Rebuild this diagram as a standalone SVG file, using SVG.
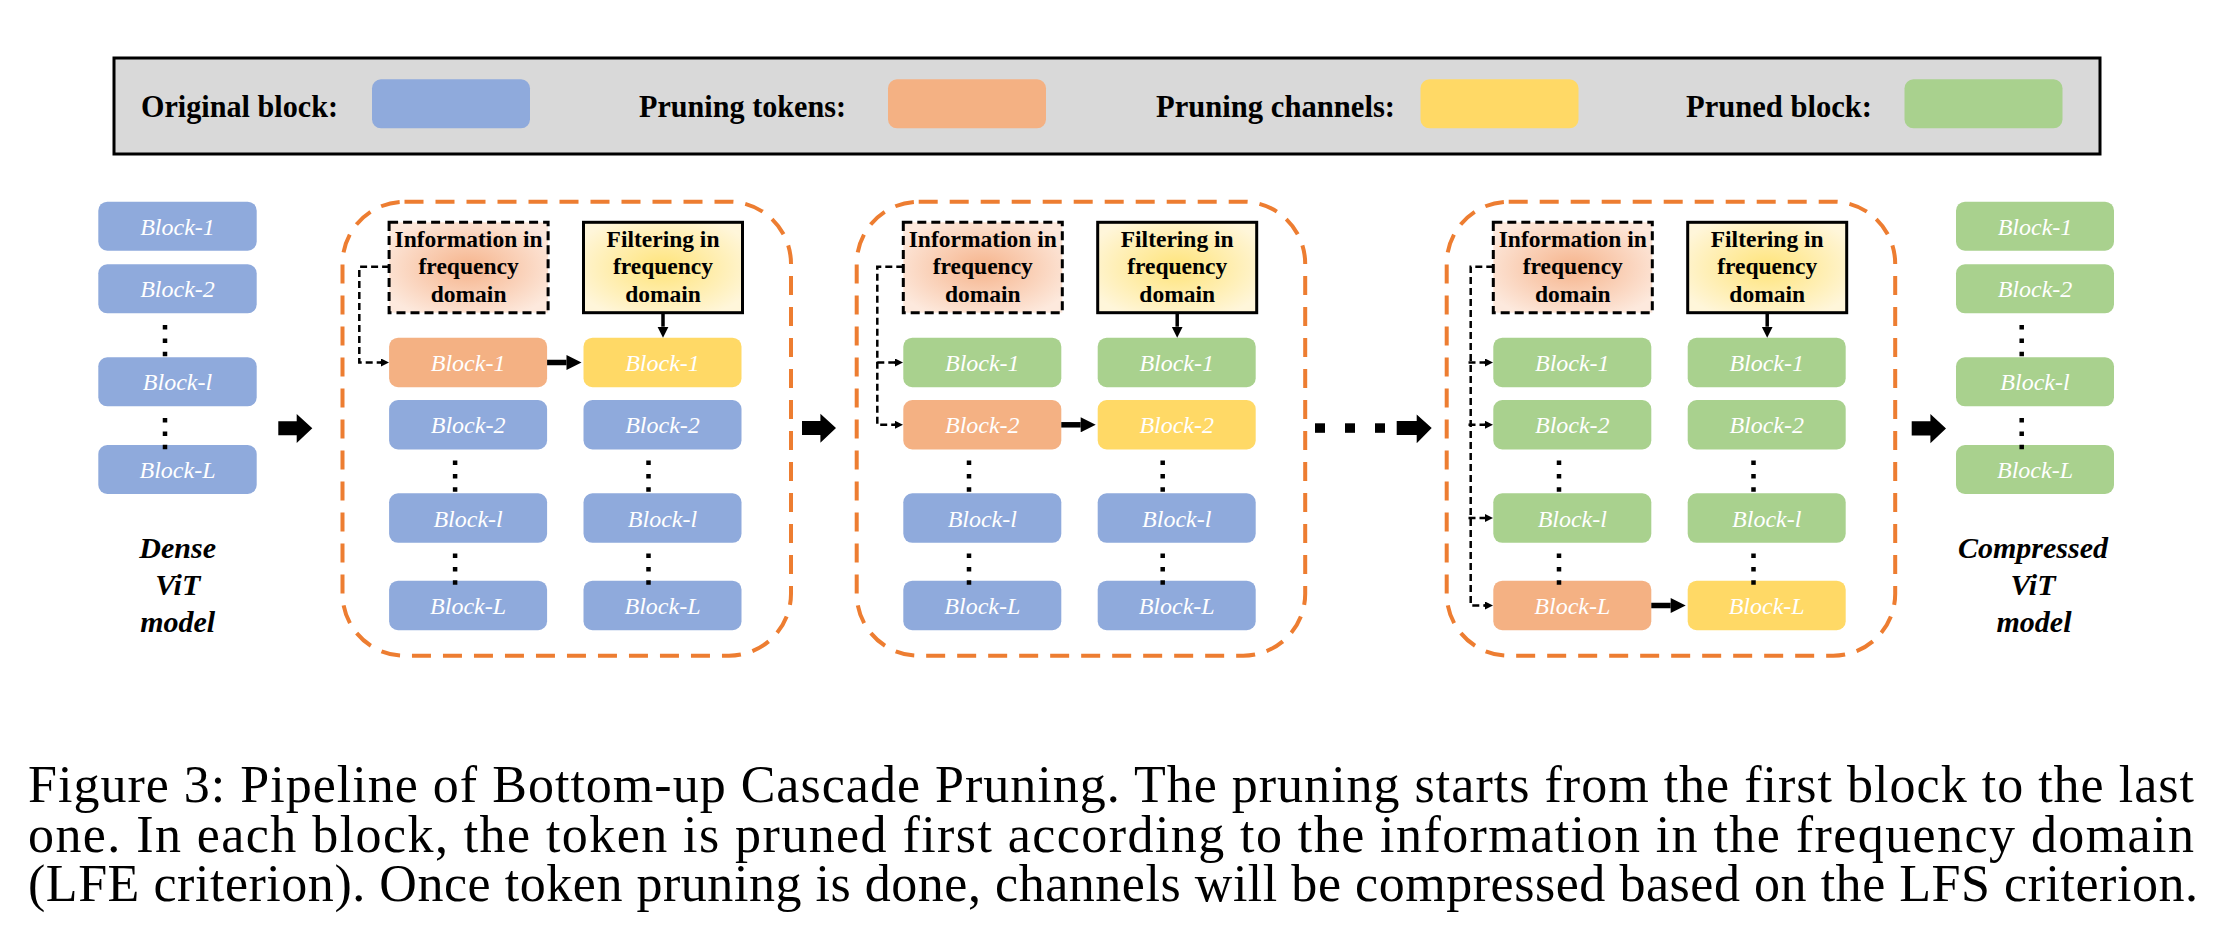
<svg xmlns="http://www.w3.org/2000/svg" width="2227" height="927" viewBox="0 0 2227 927">
<defs>
<style>
.blk{stroke:none}
.blue{fill:#8FAADC}
.org{fill:#F4B183}
.yel{fill:#FFD966}
.grn{fill:#A9D18E}
.bt{font-family:"Liberation Serif","Times New Roman",serif;font-style:italic;font-size:24px;fill:#FFFFFF;text-anchor:middle}
.lt{font-family:"Liberation Serif","Times New Roman",serif;font-weight:bold;font-size:31px;fill:#000}
.bx{font-family:"Liberation Serif","Times New Roman",serif;font-weight:bold;font-size:23.5px;fill:#000;text-anchor:middle}
.mt{font-family:"Liberation Serif","Times New Roman",serif;font-weight:bold;font-style:italic;font-size:30px;fill:#000;text-anchor:middle}
.cap{font-family:"Liberation Serif","Times New Roman",serif;font-size:52px;fill:#000}
.cont{fill:none;stroke:#ED7D31;stroke-width:4;stroke-dasharray:19 12}
.info{stroke:#000;stroke-width:3;stroke-dasharray:9 5}
.filt{stroke:#000;stroke-width:3}
.dots{stroke:#000;stroke-width:4.5;stroke-dasharray:4.5 8.9}
.dash{fill:none;stroke:#000;stroke-width:2.5;stroke-dasharray:7 4}
.thick{stroke:#000;stroke-width:5.5}
.thin{stroke:#000;stroke-width:3.5}
.big{fill:#000}
</style>
<radialGradient id="gInfo" cx="50%" cy="50%" r="60%">
<stop offset="0%" stop-color="#F6B48C"/>
<stop offset="100%" stop-color="#FDE9DD"/>
</radialGradient>
<radialGradient id="gFilt" cx="50%" cy="50%" r="60%">
<stop offset="0%" stop-color="#FFE47A"/>
<stop offset="100%" stop-color="#FFF6DA"/>
</radialGradient>
<marker id="ahS" viewBox="0 0 10 10" refX="0" refY="5" markerWidth="8" markerHeight="8" markerUnits="userSpaceOnUse" orient="auto"><path d="M0,0 L10,5 L0,10 z" fill="#000"/></marker>
<marker id="ahM" viewBox="0 0 10 10" refX="0" refY="5" markerWidth="11" markerHeight="12" markerUnits="userSpaceOnUse" orient="auto"><path d="M0,0 L10,5 L0,10 z" fill="#000"/></marker>
<marker id="ahL" viewBox="0 0 10 10" refX="0" refY="5" markerWidth="17" markerHeight="15" markerUnits="userSpaceOnUse" orient="auto"><path d="M0,0 L10,5 L0,10 z" fill="#000"/></marker>
</defs>

<g id="legend">
<rect x="114" y="58" width="1986" height="96" fill="#D9D9D9" stroke="#000" stroke-width="3"/>
<text class="lt" x="141" y="117" textLength="197" lengthAdjust="spacingAndGlyphs">Original block:</text>
<rect class="blue" x="372" y="79.3" width="158" height="49" rx="9"/>
<text class="lt" x="639" y="117" textLength="207" lengthAdjust="spacingAndGlyphs">Pruning tokens:</text>
<rect class="org" x="888" y="79.3" width="158" height="49" rx="9"/>
<text class="lt" x="1156" y="117" textLength="239" lengthAdjust="spacingAndGlyphs">Pruning channels:</text>
<rect class="yel" x="1420.5" y="79.3" width="158" height="49" rx="9"/>
<text class="lt" x="1686" y="117" textLength="186" lengthAdjust="spacingAndGlyphs">Pruned block:</text>
<rect class="grn" x="1904.5" y="79.3" width="158" height="49" rx="9"/>
</g>

<g id="dense-model">
<rect class="blue" x="98.3" y="201.7" width="158.4" height="49" rx="9"/>
<text class="bt" x="177.5" y="234.5">Block-1</text>
<rect class="blue" x="98.3" y="264.3" width="158.4" height="49" rx="9"/>
<text class="bt" x="177.5" y="297">Block-2</text>
<rect class="blue" x="98.3" y="357.3" width="158.4" height="49" rx="9"/>
<text class="bt" x="177.5" y="390">Block-l</text>
<rect class="blue" x="98.3" y="445" width="158.4" height="49" rx="9"/>
<text class="bt" x="177.5" y="477.7">Block-L</text>
<line class="dots" x1="165" y1="325" x2="165" y2="357"/>
<line class="dots" x1="165" y1="418" x2="165" y2="450"/>
<text class="mt" x="177.7" y="558">Dense</text>
<text class="mt" x="177.7" y="595">ViT</text>
<text class="mt" x="177.7" y="632">model</text>
</g>

<g id="stage-1">
<rect class="cont" x="342.5" y="201.7" width="448.5" height="454" rx="62"/>
<rect class="info" x="389.1" y="222.3" width="159" height="90.4" fill="url(#gInfo)"/>
<text class="bx" x="468.6" y="247">Information in</text>
<text class="bx" x="468.6" y="274">frequency</text>
<text class="bx" x="468.6" y="301.5">domain</text>
<rect class="filt" x="583.5" y="222.3" width="159" height="90.4" fill="url(#gFilt)"/>
<text class="bx" x="663" y="247">Filtering in</text>
<text class="bx" x="663" y="274">frequency</text>
<text class="bx" x="663" y="301.5">domain</text>
<rect class="org" x="389.1" y="337.7" width="158" height="49.5" rx="9"/>
<text class="bt" x="468.1" y="371">Block-1</text>
<rect class="blue" x="389.1" y="400" width="158" height="49.5" rx="9"/>
<text class="bt" x="468.1" y="433.3">Block-2</text>
<rect class="blue" x="389.1" y="493.3" width="158" height="49.5" rx="9"/>
<text class="bt" x="468.1" y="526.5">Block-l</text>
<rect class="blue" x="389.1" y="580.7" width="158" height="49.5" rx="9"/>
<text class="bt" x="468.1" y="614">Block-L</text>
<rect class="yel" x="583.5" y="337.7" width="158" height="49.5" rx="9"/>
<text class="bt" x="662.5" y="371">Block-1</text>
<rect class="blue" x="583.5" y="400" width="158" height="49.5" rx="9"/>
<text class="bt" x="662.5" y="433.3">Block-2</text>
<rect class="blue" x="583.5" y="493.3" width="158" height="49.5" rx="9"/>
<text class="bt" x="662.5" y="526.5">Block-l</text>
<rect class="blue" x="583.5" y="580.7" width="158" height="49.5" rx="9"/>
<text class="bt" x="662.5" y="614">Block-L</text>
<line class="dots" x1="455.1" y1="460.5" x2="455.1" y2="493"/>
<line class="dots" x1="455.1" y1="553.5" x2="455.1" y2="586"/>
<line class="dots" x1="648.5" y1="460.5" x2="648.5" y2="493"/>
<line class="dots" x1="648.5" y1="553.5" x2="648.5" y2="586"/>
</g>

<g id="stage-2">
<rect class="cont" x="856.7" y="201.7" width="448.5" height="454" rx="62"/>
<rect class="info" x="903.3" y="222.3" width="159" height="90.4" fill="url(#gInfo)"/>
<text class="bx" x="982.8" y="247">Information in</text>
<text class="bx" x="982.8" y="274">frequency</text>
<text class="bx" x="982.8" y="301.5">domain</text>
<rect class="filt" x="1097.7" y="222.3" width="159" height="90.4" fill="url(#gFilt)"/>
<text class="bx" x="1177.2" y="247">Filtering in</text>
<text class="bx" x="1177.2" y="274">frequency</text>
<text class="bx" x="1177.2" y="301.5">domain</text>
<rect class="grn" x="903.3" y="337.7" width="158" height="49.5" rx="9"/>
<text class="bt" x="982.3" y="371">Block-1</text>
<rect class="org" x="903.3" y="400" width="158" height="49.5" rx="9"/>
<text class="bt" x="982.3" y="433.3">Block-2</text>
<rect class="blue" x="903.3" y="493.3" width="158" height="49.5" rx="9"/>
<text class="bt" x="982.3" y="526.5">Block-l</text>
<rect class="blue" x="903.3" y="580.7" width="158" height="49.5" rx="9"/>
<text class="bt" x="982.3" y="614">Block-L</text>
<rect class="grn" x="1097.7" y="337.7" width="158" height="49.5" rx="9"/>
<text class="bt" x="1176.7" y="371">Block-1</text>
<rect class="yel" x="1097.7" y="400" width="158" height="49.5" rx="9"/>
<text class="bt" x="1176.7" y="433.3">Block-2</text>
<rect class="blue" x="1097.7" y="493.3" width="158" height="49.5" rx="9"/>
<text class="bt" x="1176.7" y="526.5">Block-l</text>
<rect class="blue" x="1097.7" y="580.7" width="158" height="49.5" rx="9"/>
<text class="bt" x="1176.7" y="614">Block-L</text>
<line class="dots" x1="969" y1="460.5" x2="969" y2="493"/>
<line class="dots" x1="969" y1="553.5" x2="969" y2="586"/>
<line class="dots" x1="1162.7" y1="460.5" x2="1162.7" y2="493"/>
<line class="dots" x1="1162.7" y1="553.5" x2="1162.7" y2="586"/>
</g>

<g id="stage-3">
<rect class="cont" x="1446.7" y="201.7" width="448.5" height="454" rx="62"/>
<rect class="info" x="1493.3" y="222.3" width="159" height="90.4" fill="url(#gInfo)"/>
<text class="bx" x="1572.8" y="247">Information in</text>
<text class="bx" x="1572.8" y="274">frequency</text>
<text class="bx" x="1572.8" y="301.5">domain</text>
<rect class="filt" x="1687.7" y="222.3" width="159" height="90.4" fill="url(#gFilt)"/>
<text class="bx" x="1767.2" y="247">Filtering in</text>
<text class="bx" x="1767.2" y="274">frequency</text>
<text class="bx" x="1767.2" y="301.5">domain</text>
<rect class="grn" x="1493.3" y="337.7" width="158" height="49.5" rx="9"/>
<text class="bt" x="1572.3" y="371">Block-1</text>
<rect class="grn" x="1493.3" y="400" width="158" height="49.5" rx="9"/>
<text class="bt" x="1572.3" y="433.3">Block-2</text>
<rect class="grn" x="1493.3" y="493.3" width="158" height="49.5" rx="9"/>
<text class="bt" x="1572.3" y="526.5">Block-l</text>
<rect class="org" x="1493.3" y="580.7" width="158" height="49.5" rx="9"/>
<text class="bt" x="1572.3" y="614">Block-L</text>
<rect class="grn" x="1687.7" y="337.7" width="158" height="49.5" rx="9"/>
<text class="bt" x="1766.7" y="371">Block-1</text>
<rect class="grn" x="1687.7" y="400" width="158" height="49.5" rx="9"/>
<text class="bt" x="1766.7" y="433.3">Block-2</text>
<rect class="grn" x="1687.7" y="493.3" width="158" height="49.5" rx="9"/>
<text class="bt" x="1766.7" y="526.5">Block-l</text>
<rect class="yel" x="1687.7" y="580.7" width="158" height="49.5" rx="9"/>
<text class="bt" x="1766.7" y="614">Block-L</text>
<line class="dots" x1="1559" y1="460.5" x2="1559" y2="493"/>
<line class="dots" x1="1559" y1="553.5" x2="1559" y2="586"/>
<line class="dots" x1="1753.5" y1="460.5" x2="1753.5" y2="493"/>
<line class="dots" x1="1753.5" y1="553.5" x2="1753.5" y2="586"/>
</g>

<g id="compressed-model">
<rect class="grn" x="1956" y="201.7" width="158" height="49" rx="9"/>
<text class="bt" x="2035" y="234.5">Block-1</text>
<rect class="grn" x="1956" y="264.3" width="158" height="49" rx="9"/>
<text class="bt" x="2035" y="297">Block-2</text>
<rect class="grn" x="1956" y="357.3" width="158" height="49" rx="9"/>
<text class="bt" x="2035" y="390">Block-l</text>
<rect class="grn" x="1956" y="445" width="158" height="49" rx="9"/>
<text class="bt" x="2035" y="477.7">Block-L</text>
<line class="dots" x1="2021.7" y1="325" x2="2021.7" y2="357"/>
<line class="dots" x1="2021.7" y1="418" x2="2021.7" y2="450"/>
<text class="mt" x="2033" y="558">Compressed</text>
<text class="mt" x="2033" y="595">ViT</text>
<text class="mt" x="2034" y="632">model</text>
</g>

<g id="connectors">
<!-- stage 1 -->
<path class="dash" d="M389.1,266.7 H359.3 V362.5 H381"/>
<line x1="380" y1="362.5" x2="381" y2="362.5" stroke="#000" stroke-width="2" marker-end="url(#ahS)"/>
<line class="thin" x1="663" y1="312.7" x2="663" y2="326.7" marker-end="url(#ahM)"/>
<line class="thick" x1="547.1" y1="362.5" x2="566.5" y2="362.5" marker-end="url(#ahL)"/>
<!-- stage 2 -->
<path class="dash" d="M903.3,266.7 H877.3 V424.8 H895"/>
<line x1="894" y1="424.8" x2="895" y2="424.8" stroke="#000" stroke-width="2" marker-end="url(#ahS)"/>
<path class="dash" d="M877.3,362.5 H895"/>
<line x1="894" y1="362.5" x2="895" y2="362.5" stroke="#000" stroke-width="2" marker-end="url(#ahS)"/>
<line class="thin" x1="1177.2" y1="312.7" x2="1177.2" y2="326.7" marker-end="url(#ahM)"/>
<line class="thick" x1="1061.3" y1="424.8" x2="1080.7" y2="424.8" marker-end="url(#ahL)"/>
<!-- stage 3 -->
<path class="dash" d="M1493.3,266.7 H1470.7 V605.5 H1485"/>
<line x1="1484" y1="605.5" x2="1485" y2="605.5" stroke="#000" stroke-width="2" marker-end="url(#ahS)"/>
<path class="dash" d="M1468.5,362.5 H1485 M1468.5,424.8 H1485 M1468.5,518 H1485"/>
<line x1="1484" y1="362.5" x2="1485" y2="362.5" stroke="#000" stroke-width="2" marker-end="url(#ahS)"/>
<line x1="1484" y1="424.8" x2="1485" y2="424.8" stroke="#000" stroke-width="2" marker-end="url(#ahS)"/>
<line x1="1484" y1="518" x2="1485" y2="518" stroke="#000" stroke-width="2" marker-end="url(#ahS)"/>
<line class="thin" x1="1767.2" y1="312.7" x2="1767.2" y2="326.7" marker-end="url(#ahM)"/>
<line class="thick" x1="1651.3" y1="605.5" x2="1670.7" y2="605.5" marker-end="url(#ahL)"/>
<!-- stage transitions -->
<path class="big" d="M278.3,421.3 H296.7 V414 L312.3,428.3 L296.7,443 V435.3 H278.3 Z"/>
<path class="big" d="M802,421 H820.4 V413.7 L836,428 L820.4,442.7 V435 H802 Z"/>
<rect class="big" x="1315" y="423.3" width="10" height="9.5"/>
<rect class="big" x="1345" y="423.3" width="10" height="9.5"/>
<rect class="big" x="1375" y="423.3" width="10" height="9.5"/>
<path class="big" d="M1396.7,421 H1416.7 V414.5 L1431.7,428 L1416.7,443.3 V435 H1396.7 Z"/>
<path class="big" d="M1911.7,421.3 H1930.4 V414 L1946,428.5 L1930.4,443.3 V435.5 H1911.7 Z"/>
</g>

<g id="caption">
<text class="cap" x="28" y="802" textLength="2166" lengthAdjust="spacing">Figure 3: Pipeline of Bottom-up Cascade Pruning. The pruning starts from the first block to the last</text>
<text class="cap" x="28" y="852" textLength="2166" lengthAdjust="spacing">one. In each block, the token is pruned first according to the information in the frequency domain</text>
<text class="cap" x="28" y="901" textLength="2170" lengthAdjust="spacing">(LFE criterion). Once token pruning is done, channels will be compressed based on the LFS criterion.</text>
</g>
</svg>
